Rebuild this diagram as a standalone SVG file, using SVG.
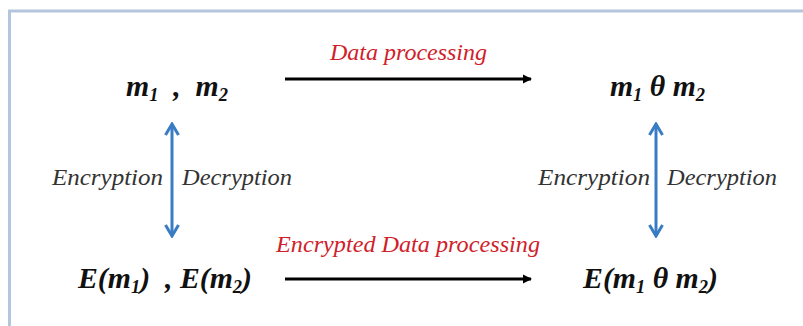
<svg xmlns="http://www.w3.org/2000/svg" width="803" height="326" viewBox="0 0 803 326">
<style>
.math{font-family:"Liberation Serif","DejaVu Serif",serif;font-style:italic;font-weight:bold;font-size:29px;fill:#111}
.sub{font-size:18px}
.lbl{font-family:"Liberation Serif","DejaVu Serif",serif;font-style:italic;font-size:23px;fill:#333}
.red{font-family:"Liberation Serif","DejaVu Serif",serif;font-style:italic;font-size:23px;fill:#d0212a}
.blk{stroke:#000;stroke-width:3;fill:none}
.blu{stroke:#3a7cc4;stroke-width:3;fill:none}
</style>
<defs>
<marker id="ah" markerWidth="10" markerHeight="10" refX="8" refY="5" orient="auto" markerUnits="userSpaceOnUse">
<path d="M0,0.5 L9,5 L0,9.5 Z" fill="#000"/>
</marker>
<marker id="bh" markerWidth="16" markerHeight="16" refX="14" refY="8" orient="auto-start-reverse" markerUnits="userSpaceOnUse">
<path d="M3,1.5 L14,8 L3,14.5" fill="none" stroke="#3a7cc4" stroke-width="3"/>
</marker>
</defs>
<rect width="803" height="326" fill="#fff"/>
<path d="M9.5,326 V11 H803" fill="none" stroke="#b3c6dc" stroke-width="3"/>
<g id="n1"><text class="math" x="126" y="96" textLength="102" lengthAdjust="spacingAndGlyphs" xml:space="preserve">m<tspan class="sub" dy="5">1</tspan><tspan dy="-5">  ,  m</tspan><tspan class="sub" dy="5">2</tspan></text></g>
<g id="n2"><text class="math" x="610" y="96" textLength="95" lengthAdjust="spacingAndGlyphs">m<tspan class="sub" dy="5">1</tspan><tspan dy="-5"> θ m</tspan><tspan class="sub" dy="5">2</tspan></text></g>
<g id="n3"><text class="math" x="78" y="288" textLength="174" lengthAdjust="spacingAndGlyphs" xml:space="preserve">E(m<tspan class="sub" dy="5">1</tspan><tspan dy="-5">)  , E(m</tspan><tspan class="sub" dy="5">2</tspan><tspan dy="-5">)</tspan></text></g>
<g id="n4"><text class="math" x="583" y="288" textLength="135" lengthAdjust="spacingAndGlyphs">E(m<tspan class="sub" dy="5">1</tspan><tspan dy="-5"> θ m</tspan><tspan class="sub" dy="5">2</tspan><tspan dy="-5">)</tspan></text></g>
<g id="connectors">
<line class="blk" x1="285" y1="79" x2="531" y2="79" marker-end="url(#ah)"/>
<line class="blk" x1="285" y1="279" x2="531" y2="279" marker-end="url(#ah)"/>
<line class="blu" x1="172" y1="124" x2="172" y2="236" marker-start="url(#bh)" marker-end="url(#bh)"/>
<line class="blu" x1="656" y1="124" x2="656" y2="236" marker-start="url(#bh)" marker-end="url(#bh)"/>
<text class="red" x="330" y="60" textLength="157" lengthAdjust="spacingAndGlyphs">Data processing</text>
<text class="red" x="276" y="252" textLength="264" lengthAdjust="spacingAndGlyphs">Encrypted Data processing</text>
<text class="lbl" x="52" y="185" textLength="111" lengthAdjust="spacingAndGlyphs">Encryption</text>
<text class="lbl" x="182" y="185" textLength="110" lengthAdjust="spacingAndGlyphs">Decryption</text>
<text class="lbl" x="538" y="185" textLength="112" lengthAdjust="spacingAndGlyphs">Encryption</text>
<text class="lbl" x="667" y="185" textLength="110" lengthAdjust="spacingAndGlyphs">Decryption</text>
</g>
</svg>
